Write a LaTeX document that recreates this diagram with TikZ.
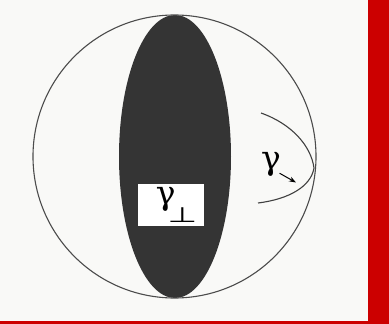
\documentclass[tikz,border=0pt]{standalone}
\usepackage{fontspec}
\usepackage{graphicx}
\newfontfamily\greekfont{DejaVu Serif}
\newfontfamily\symbfont{DejaVu Sans}
\usetikzlibrary{shapes.geometric,arrows.meta}
\definecolor{paper}{RGB}{249,249,247}
\definecolor{ink}{RGB}{52,52,52}
\definecolor{scanred}{RGB}{204,0,0}
\newcommand{\perpmark}{\raisebox{-18pt}{\symbfont\fontsize{34}{34}\selectfont\scalebox{1}[0.62]{⊥}}}
\begin{document}
\begin{tikzpicture}[
  x=1pt, y=-1pt,
  every node/.style={font=\greekfont\fontsize{33}{33}\selectfont, inner sep=0pt},
  sphere/.style={draw=black!70, line width=1.1pt},
  lens/.style={ellipse, fill=ink},
  label box/.style={fill=white, minimum width=66pt, minimum height=42pt},
  path line/.style={draw=black!75, line width=1.1pt}
]
\fill[paper] (0,0) rectangle (389,324);
\fill[scanred] (368,0) rectangle (389,324);
\fill[scanred] (0,321) rectangle (389,324);
\node[lens, minimum width=112pt, minimum height=283pt] (lens) at (175,156.5) {};
\node[circle, sphere, minimum size=283pt] (ball) at (174.5,156.5) {};
\node[label box] (perp) at (171,205) {\hspace*{11pt}γ\kern-8pt\perpmark};
\node (gam) at (271,164.5) {γ};
\coordinate (tip) at (296,182.5);
\coordinate (a) at (261,113);
\coordinate (v) at (314,168);
\coordinate (b) at (258,203);
\draw[path line] (a) .. controls (292,124) and (311,146) .. (v)
  .. controls (311,186) and (290,199) .. (b);
\draw[line width=1pt, -{Stealth[length=7pt,width=5pt]}] (gam.south east) ++(-1.5,-3.5) -- (tip);
\useasboundingbox (0,0) rectangle (389,324);
\end{tikzpicture}
\end{document}
